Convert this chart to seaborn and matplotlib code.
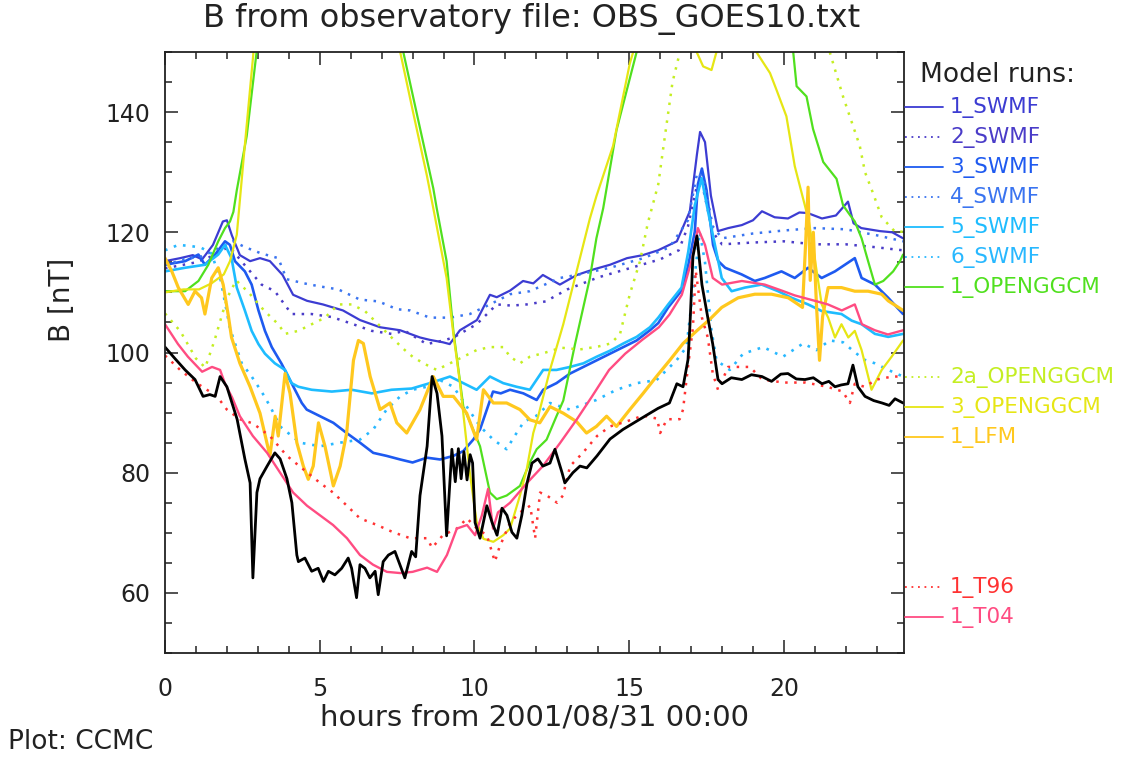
import matplotlib
matplotlib.use("Agg")
import matplotlib.pyplot as plt
from matplotlib.lines import Line2D
from matplotlib.ticker import MultipleLocator
import seaborn as sns
import pandas as pd

# ---------------- data (hours, B [nT]) ----------------
obs_hours = [0.0, 0.32, 0.65, 0.97, 1.23, 1.45, 1.62, 1.78, 2.0, 2.33,
             2.58, 2.75, 2.84, 2.97, 3.07, 3.3, 3.55, 3.72, 3.94, 4.1,
             4.26, 4.31, 4.52, 4.74, 4.95, 5.12, 5.28, 5.49, 5.71, 5.92,
             6.03, 6.19, 6.3, 6.46, 6.62, 6.79, 6.89, 7.05, 7.22, 7.43,
             7.59, 7.75, 7.97, 8.1, 8.24, 8.47, 8.63, 8.79, 8.95, 9.1,
             9.27, 9.38, 9.48, 9.57, 9.66, 9.76, 9.86, 9.94, 10.02, 10.18,
             10.4, 10.57, 10.73, 10.89, 11.05, 11.21, 11.37, 11.53, 11.7, 11.86,
             12.05, 12.21, 12.44, 12.6, 12.83, 12.92, 13.18, 13.41, 13.63, 13.96,
             14.38, 14.8, 15.25, 15.67, 15.93, 16.3, 16.54, 16.74, 16.9, 16.96,
             17.06, 17.19, 17.35, 17.54, 17.7, 17.87, 18.0, 18.3, 18.64, 18.95,
             19.29, 19.6, 19.9, 20.13, 20.4, 20.68, 20.95, 21.23, 21.45, 21.65,
             21.85, 22.07, 22.23, 22.39, 22.62, 22.9, 23.17, 23.4, 23.59, 23.85]
obs_b = [100.9, 99.0, 97.1, 95.5, 92.7, 93.0, 92.7, 96.0, 94.3, 88.9,
         82.3, 78.3, 62.5, 76.7, 79.0, 81.1, 83.3, 82.3, 79.0, 75.0,
         66.3, 65.2, 65.8, 63.6, 64.1, 61.9, 63.6, 63.0, 64.1, 65.8,
         64.1, 59.2, 64.7, 64.1, 62.5, 63.6, 59.7, 65.2, 66.3, 66.9,
         64.7, 62.5, 66.9, 66.0, 76.2, 84.4, 96.0, 93.2, 86.1, 69.5,
         83.9, 78.5, 84.0, 79.0, 83.5, 78.8, 83.0, 81.6, 71.7, 69.1,
         74.5, 71.7, 69.6, 74.1, 72.9, 70.1, 69.1, 72.9, 78.3, 81.6,
         82.3, 81.1, 81.6, 83.9, 80.0, 78.3, 80.0, 81.1, 80.8, 82.8,
         85.6, 87.2, 88.6, 89.9, 90.7, 91.6, 94.8, 94.3, 98.8, 104.2,
         116.0, 119.4, 111.3, 105.8, 101.4, 95.5, 94.8, 95.8, 95.5, 96.3,
         96.0, 95.2, 96.4, 96.5, 95.6, 95.5, 95.8, 94.8, 95.2, 94.3,
         94.6, 94.8, 97.9, 94.3, 92.7, 92.0, 91.6, 91.2, 92.3, 91.6]

swmf1_hours = [0.0, 0.49, 0.9, 1.2, 1.55, 1.87, 2.0, 2.16, 2.42, 2.75,
               3.07, 3.39, 3.8, 4.14, 4.59, 5.1, 5.75, 6.3, 6.95, 7.6,
               8.24, 8.56, 8.98, 9.2, 9.53, 10.08, 10.5, 10.72, 11.15, 11.57,
               11.9, 12.21, 12.76, 13.0, 13.31, 13.83, 14.38, 14.93, 15.44, 15.93,
               16.54, 16.96, 17.19, 17.29, 17.45, 17.64, 17.87, 18.2, 18.64, 19.0,
               19.29, 19.7, 20.13, 20.5, 20.77, 21.23, 21.68, 22.07, 22.25, 22.5,
               23.1, 23.5, 23.85]
swmf1_b = [115.2, 115.7, 116.2, 115.5, 117.9, 121.8, 122.0, 119.5, 116.2, 115.2,
           115.7, 115.2, 112.9, 109.6, 108.6, 108.0, 107.0, 105.4, 104.2, 103.7,
           102.5, 102.1, 101.7, 101.4, 103.7, 105.4, 109.6, 109.2, 110.3, 111.9,
           111.5, 112.9, 111.3, 112.0, 112.9, 113.8, 114.6, 115.7, 116.2, 117.0,
           118.5, 123.5, 133.0, 136.7, 135.0, 126.1, 120.2, 120.7, 121.2, 122.0,
           123.5, 122.5, 122.3, 123.3, 123.2, 122.3, 122.8, 125.1, 121.5, 120.7,
           120.2, 120.0, 119.0]

swmf2_hours = [0.0, 0.5, 1.0, 1.5, 1.8, 2.1, 2.5, 3.12, 3.55, 4.09,
               4.74, 5.39, 6.03, 6.68, 7.32, 7.75, 8.46, 9.0, 9.32, 10.07,
               10.72, 11.2, 11.69, 12.3, 13.0, 14.0, 15.0, 16.0, 16.6, 16.9,
               17.2, 17.4, 17.7, 18.0, 19.0, 20.0, 21.0, 22.0, 23.0, 23.85]
swmf2_b = [114.0, 114.5, 115.0, 116.0, 117.0, 117.5, 115.0, 111.3, 110.2, 106.4,
           106.4, 105.9, 104.8, 103.6, 103.1, 103.6, 101.4, 102.0, 102.5, 104.7,
           108.0, 107.8, 108.0, 108.5, 110.5, 112.5, 114.0, 115.5, 117.0, 121.0,
           128.0, 127.0, 120.0, 118.0, 118.3, 118.5, 118.0, 118.0, 117.5, 117.0]

swmf3_hours = [0.0, 0.65, 1.08, 1.29, 1.62, 1.94, 2.1, 2.26, 2.58, 2.8,
               3.02, 3.23, 3.45, 3.77, 4.09, 4.42, 4.58, 5.01, 5.44, 5.87,
               6.3, 6.73, 7.16, 7.6, 8.0, 8.46, 8.89, 9.32, 9.64, 9.96,
               10.18, 10.4, 10.6, 10.85, 11.15, 11.58, 12.01, 12.22, 12.65, 13.09,
               13.52, 13.95, 14.38, 14.81, 15.24, 15.67, 15.94, 16.26, 16.69, 16.91,
               17.12, 17.22, 17.35, 17.5, 17.71, 17.88, 18.1, 18.63, 19.06, 19.38,
               19.92, 20.35, 20.78, 21.22, 21.65, 21.97, 22.29, 22.51, 22.94, 23.37,
               23.85]
swmf3_b = [114.6, 115.2, 116.3, 114.6, 116.3, 118.5, 117.9, 115.2, 113.5, 111.3,
           107.0, 103.6, 100.9, 98.1, 94.9, 91.6, 90.5, 89.4, 88.3, 86.6,
           85.0, 83.3, 82.8, 82.2, 81.7, 82.5, 82.2, 82.8, 83.6, 85.5,
           87.2, 90.5, 93.5, 93.2, 93.8, 93.2, 92.1, 93.8, 94.9, 96.5,
           97.6, 98.7, 99.8, 100.9, 102.0, 103.7, 104.9, 107.5, 110.3, 114.6,
           120.1, 128.0, 130.6, 127.0, 117.9, 115.2, 114.1, 113.0, 111.9, 112.4,
           113.5, 112.4, 114.1, 112.4, 113.5, 114.6, 115.7, 112.4, 111.3, 109.1,
           106.4]

swmf4_hours = [0.0, 0.6, 1.2, 1.8, 2.2, 2.6, 3.1, 3.66, 3.93, 4.5,
               5.0, 5.6, 6.3, 6.9, 7.5, 7.92, 8.56, 9.21, 9.85, 10.5,
               11.15, 11.79, 12.76, 13.3, 14.38, 15.46, 16.3, 16.9, 17.2, 17.4,
               17.7, 18.0, 19.0, 20.0, 21.0, 22.0, 23.0, 23.85]
swmf4_b = [114.5, 115.5, 116.0, 117.5, 118.5, 117.5, 116.5, 115.7, 112.2, 111.5,
           111.0, 110.5, 108.8, 108.5, 107.2, 107.0, 105.8, 105.8, 106.4, 108.0,
           109.7, 110.2, 112.4, 112.9, 114.1, 115.7, 117.5, 122.0, 130.0, 129.0,
           121.0, 119.0, 119.8, 120.3, 120.7, 120.5, 119.5, 118.5]

swmf5_hours = [0.0, 0.65, 1.29, 1.72, 1.94, 2.15, 2.32, 2.58, 2.8, 3.02,
               3.23, 3.55, 3.88, 4.09, 4.31, 4.74, 5.39, 6.03, 6.68, 7.32,
               7.97, 8.56, 9.21, 9.64, 10.07, 10.5, 10.93, 11.36, 11.79, 12.22,
               12.65, 13.09, 13.52, 13.95, 14.38, 14.81, 15.24, 15.67, 15.94, 16.26,
               16.69, 16.91, 17.12, 17.34, 17.55, 17.77, 17.99, 18.31, 18.74, 19.28,
               19.81, 20.25, 20.78, 21.22, 21.86, 22.19, 22.51, 22.94, 23.37, 23.85]
swmf5_b = [113.5, 114.1, 114.6, 116.3, 117.9, 115.7, 110.8, 107.0, 103.6, 101.4,
           99.8, 98.2, 97.1, 94.9, 94.3, 93.8, 93.5, 93.8, 93.2, 93.8,
           94.0, 94.9, 96.0, 94.9, 93.8, 96.0, 94.9, 94.3, 93.8, 97.1,
           97.1, 97.6, 98.2, 99.3, 100.3, 101.5, 102.6, 104.2, 105.8, 108.0,
           110.8, 116.8, 124.5, 129.0, 123.4, 117.9, 112.4, 110.2, 110.8, 111.3,
           110.2, 109.1, 108.0, 106.9, 106.4, 105.3, 104.7, 103.1, 102.6, 103.1]

swmf6_hours = [0.0, 0.43, 0.86, 1.18, 1.5, 1.8, 2.1, 2.48, 2.8, 3.12,
               3.4, 3.72, 4.36, 5.01, 5.66, 6.3, 6.73, 7.16, 7.6, 8.0,
               8.46, 8.89, 9.32, 9.75, 10.18, 10.61, 11.04, 11.26, 11.6, 12.01,
               12.44, 13.08, 13.94, 14.59, 15.24, 15.88, 16.53, 16.85, 17.1, 17.28,
               17.45, 17.65, 17.82, 18.25, 18.68, 19.33, 19.97, 20.62, 21.05, 21.48,
               21.91, 22.3, 22.6, 22.94, 23.37, 23.85]
swmf6_b = [117.0, 117.9, 117.7, 117.4, 116.5, 112.0, 104.0, 98.2, 96.0, 93.5,
           91.0, 87.7, 85.0, 84.4, 85.0, 85.5, 87.2, 90.5, 92.7, 93.8,
           94.3, 95.4, 94.3, 91.0, 87.7, 85.5, 83.9, 85.8, 88.5, 89.5,
           91.6, 90.5, 92.1, 93.8, 94.9, 95.4, 98.7, 100.9, 112.0, 120.0,
           115.0, 104.0, 98.7, 97.1, 99.8, 100.9, 99.3, 101.5, 100.4, 102.0,
           101.7, 100.0, 98.8, 98.2, 97.1, 96.0]

ggcm1_hours = [0.0, 0.65, 1.08, 1.4, 1.72, 1.94, 2.1, 2.21, 2.32, 2.64,
               2.96, 3.3, 7.25, 7.7, 8.13, 8.67, 8.78, 9.1, 9.32, 9.64,
               9.85, 10.18, 10.5, 10.72, 11.04, 11.47, 11.79, 12.01, 12.33, 12.65,
               12.87, 13.25, 13.73, 13.94, 14.16, 14.59, 15.24, 15.6, 19.9, 20.3,
               20.41, 20.73, 20.94, 21.27, 21.7, 21.91, 22.13, 22.29, 22.51, 22.72,
               22.94, 23.21, 23.53, 23.75, 23.85]
ggcm1_b = [110.2, 110.2, 111.9, 114.6, 118.5, 120.7, 121.8, 123.4, 127.0, 136.0,
           150.0, 165.0, 165.0, 150.0, 139.9, 127.3, 124.0, 115.2, 103.5, 91.0,
           88.5, 84.4, 76.7, 75.6, 76.2, 77.8, 81.7, 83.9, 85.5, 89.4,
           92.0, 101.4, 112.4, 119.0, 124.0, 137.0, 150.0, 165.0, 165.0, 150.0,
           144.3, 142.6, 137.2, 131.7, 128.9, 124.5, 122.9, 121.8, 119.0, 115.2,
           111.3, 111.9, 113.5, 115.2, 116.3]

ggcm2a_hours = [0.0, 0.5, 1.0, 1.3, 1.6, 2.0, 2.3, 2.7, 3.2, 3.66,
                3.88, 4.31, 4.74, 5.17, 5.6, 6.03, 6.46, 6.89, 7.32, 7.75,
                8.0, 8.35, 8.78, 9.21, 9.64, 10.07, 10.5, 10.93, 11.15, 11.47,
                11.79, 12.3, 12.8, 13.4, 14.0, 14.4, 14.7, 15.02, 15.35, 15.6,
                15.94, 16.1, 16.4, 16.64, 17.0, 21.0, 21.48, 21.91, 22.45, 22.62,
                22.88, 23.16, 23.59, 23.85]
ggcm2a_b = [106.5, 103.5, 99.0, 97.5, 102.0, 109.0, 112.0, 110.0, 107.0, 104.7,
            103.1, 103.6, 104.7, 105.8, 108.0, 108.0, 106.9, 104.7, 102.5, 100.4,
            99.3, 98.2, 97.1, 98.2, 99.3, 100.4, 100.9, 100.9, 99.3, 98.2,
            99.3, 100.0, 100.8, 100.5, 101.0, 101.5, 103.0, 109.7, 115.2, 121.5,
            128.0, 134.0, 145.0, 150.0, 165.0, 165.0, 150.0, 142.6, 134.4, 130.0,
            126.5, 122.5, 120.1, 120.1]

ggcm3_hours = [0.0, 0.6, 1.1, 1.5, 1.9, 2.1, 2.32, 2.53, 2.86, 3.2,
               7.2, 7.6, 8.02, 8.46, 8.67, 9.1, 9.32, 9.53, 9.85, 10.07,
               10.29, 10.61, 10.93, 11.15, 11.47, 11.69, 11.9, 12.06, 12.44, 12.87,
               13.3, 13.73, 13.94, 14.48, 15.02, 15.13, 15.6, 16.8, 17.18, 17.39,
               17.66, 17.82, 18.3, 18.7, 19.11, 19.55, 19.76, 20.08, 20.35, 20.6,
               20.8, 21.0, 21.22, 21.43, 21.65, 21.86, 22.08, 22.29, 22.51, 22.83,
               23.16, 23.48, 23.85]
ggcm3_b = [110.0, 110.5, 110.5, 111.5, 113.0, 115.2, 119.6, 131.7, 150.0, 165.0,
           165.0, 150.0, 139.9, 129.5, 124.0, 112.4, 103.0, 95.0, 80.0, 71.8,
           69.0, 68.5, 69.6, 70.7, 76.2, 80.6, 86.6, 89.4, 97.1, 104.7,
           113.5, 122.3, 126.0, 134.4, 148.1, 150.0, 165.0, 165.0, 150.0, 147.6,
           147.0, 150.0, 165.0, 165.0, 150.0, 146.5, 143.7, 139.3, 131.0, 126.0,
           122.0, 115.5, 108.0, 105.8, 102.5, 104.7, 102.5, 103.6, 100.4, 93.8,
           97.1, 99.3, 102.0]

lfm_hours = [0.0, 0.22, 0.43, 0.75, 0.97, 1.18, 1.29, 1.51, 1.72, 1.88,
             2.05, 2.15, 2.42, 2.75, 3.07, 3.39, 3.56, 3.66, 3.88, 4.04,
             4.26, 4.47, 4.63, 4.79, 4.96, 5.17, 5.44, 5.66, 5.87, 6.09,
             6.25, 6.41, 6.63, 6.95, 7.27, 7.49, 7.81, 8.24, 8.67, 8.99,
             9.32, 9.75, 10.07, 10.29, 10.61, 11.04, 11.47, 11.79, 12.11, 12.44,
             12.87, 13.3, 13.62, 13.94, 14.27, 14.59, 15.02, 15.45, 15.88, 16.31,
             16.74, 17.18, 17.6, 17.99, 18.52, 19.06, 19.6, 20.14, 20.46, 20.6,
             20.7, 20.78, 20.85, 20.95, 21.05, 21.15, 21.25, 21.43, 21.86, 22.29,
             22.72, 23.16, 23.37, 23.85]
lfm_b = [115.7, 113.5, 110.8, 108.0, 110.2, 109.1, 106.4, 112.4, 114.1, 111.3,
         106.0, 102.5, 98.2, 94.3, 89.9, 82.8, 89.4, 86.1, 96.5, 93.2,
         85.0, 81.1, 78.9, 81.1, 88.3, 84.4, 77.8, 81.1, 86.6, 98.7,
         102.0, 101.5, 96.0, 90.5, 91.6, 88.3, 86.6, 90.5, 96.0, 92.7,
         92.7, 89.9, 85.5, 93.8, 91.6, 91.6, 90.5, 88.8, 88.3, 91.0,
         89.9, 88.5, 86.6, 87.7, 89.4, 87.7, 90.5, 93.2, 96.0, 98.7,
         101.5, 103.6, 105.5, 107.5, 109.1, 109.7, 109.7, 109.1, 108.0, 107.5,
         118.0, 127.5, 112.0, 120.0, 108.0, 98.7, 106.0, 110.8, 110.8, 110.2,
         110.2, 109.7, 108.6, 107.0]

t96_hours = [0.0, 0.49, 1.0, 1.68, 2.0, 2.42, 2.84, 3.39, 3.94, 4.46,
             5.01, 5.43, 5.88, 6.3, 6.85, 7.37, 7.92, 8.47, 8.63, 8.98,
             9.43, 9.76, 10.08, 10.4, 10.66, 10.8, 11.15, 11.47, 11.8, 11.96,
             12.12, 12.34, 12.67, 12.86, 13.09, 13.5, 13.96, 14.38, 14.9, 15.45,
             15.9, 16.0, 16.22, 16.63, 16.74, 16.9, 17.06, 17.15, 17.35, 17.54,
             17.7, 17.87, 18.2, 18.9, 19.3, 20.0, 20.7, 21.4, 21.9, 22.13,
             22.29, 22.6, 23.0, 23.5, 23.85]
t96_b = [99.5, 97.1, 95.0, 92.7, 90.5, 88.9, 88.2, 86.1, 82.8, 80.6,
         78.3, 76.7, 74.5, 72.4, 71.3, 70.1, 69.1, 69.1, 67.5, 69.6,
         70.7, 72.4, 70.7, 69.6, 65.2, 67.5, 71.7, 73.4, 74.5, 69.1,
         76.7, 76.2, 75.0, 76.2, 81.1, 83.3, 86.1, 87.7, 88.5, 89.5,
         89.0, 86.6, 88.9, 88.9, 90.5, 97.6, 104.2, 113.6, 105.8, 102.5,
         96.5, 93.8, 97.6, 97.6, 95.5, 95.0, 95.0, 94.3, 93.5, 91.6,
         94.8, 94.3, 95.5, 96.0, 96.0]

t04_hours = [0.0, 0.42, 0.74, 1.2, 1.52, 1.78, 1.94, 2.17, 2.42, 2.84,
             3.3, 3.72, 4.14, 4.59, 5.01, 5.43, 5.88, 6.3, 6.72, 7.17,
             7.6, 8.0, 8.47, 8.79, 9.11, 9.43, 9.76, 10.02, 10.24, 10.44,
             10.6, 10.76, 11.15, 11.7, 12.21, 12.76, 13.31, 13.8, 14.35, 14.87,
             15.42, 15.96, 16.3, 16.7, 17.03, 17.22, 17.45, 17.7, 18.0, 18.64,
             19.38, 19.93, 20.35, 21.0, 21.42, 21.87, 22.29, 22.52, 22.94, 23.36,
             23.85]
t04_b = [104.7, 101.4, 99.3, 96.8, 97.6, 97.1, 94.8, 92.5, 89.4, 86.1,
         83.3, 80.0, 76.7, 74.5, 72.9, 71.3, 69.1, 66.3, 64.7, 63.5,
         63.3, 63.5, 64.2, 63.5, 66.3, 70.7, 71.3, 69.6, 72.9, 77.3,
         70.7, 73.4, 75.0, 78.3, 81.1, 84.9, 88.9, 92.7, 97.1, 99.8,
         102.1, 104.2, 106.3, 109.6, 115.5, 120.7, 117.9, 112.4, 111.3, 111.9,
         111.3, 110.3, 109.5, 108.6, 108.0, 107.0, 108.0, 104.7, 103.7, 103.0,
         103.7]

run_names = ["1_SWMF", "2_SWMF", "3_SWMF", "4_SWMF", "5_SWMF", "6_SWMF",
             "1_OPENGGCM", "2a_OPENGGCM", "3_OPENGGCM", "1_LFM", "1_T96", "1_T04"]
x_ticks = [0, 5, 10, 15, 20]
y_ticks = [60, 80, 100, 120, 140]

# ---------------- styling ----------------
DOT = (0, (1, 2.6))
runs = [
    ("1_SWMF", swmf1_hours, swmf1_b, "#3c3cd2", "-", 1.6),
    ("2_SWMF", swmf2_hours, swmf2_b, "#4a3cc8", DOT, 1.8),
    ("3_SWMF", swmf3_hours, swmf3_b, "#1e5af0", "-", 1.9),
    ("4_SWMF", swmf4_hours, swmf4_b, "#3a74f0", DOT, 1.8),
    ("5_SWMF", swmf5_hours, swmf5_b, "#1ebcff", "-", 1.9),
    ("6_SWMF", swmf6_hours, swmf6_b, "#28b8ff", DOT, 1.9),
    ("1_OPENGGCM", ggcm1_hours, ggcm1_b, "#50e01e", "-", 1.6),
    ("2a_OPENGGCM", ggcm2a_hours, ggcm2a_b, "#c4ee22", DOT, 1.8),
    ("3_OPENGGCM", ggcm3_hours, ggcm3_b, "#e6e614", "-", 1.6),
    ("1_LFM", lfm_hours, lfm_b, "#ffc81e", "-", 2.3),
    ("1_T96", t96_hours, t96_b, "#ff3232", DOT, 1.8),
    ("1_T04", t04_hours, t04_b, "#ff4c82", "-", 1.7),
]

sns.set_theme(style="ticks")
plt.rcParams['font.family'] = ['DejaVu Sans']

W, H = 1135, 758
fig = plt.figure(figsize=(W / 100, H / 100), dpi=100, facecolor="white")
ax = fig.add_axes([165 / W, 105 / H, 739 / W, 601 / H])
ax.set_facecolor("white")

for name, hrs, bv, col, ls, lw in runs:
    df = pd.DataFrame({"hours": hrs, "B": bv})
    sns.lineplot(data=df, x="hours", y="B", ax=ax, color=col, linewidth=lw,
                 linestyle=ls, estimator=None, sort=False, legend=False)

df_obs = pd.DataFrame({"hours": obs_hours, "B": obs_b})
sns.lineplot(data=df_obs, x="hours", y="B", ax=ax, color="black", linewidth=2.0,
             estimator=None, sort=False, legend=False)

ax.set_xlim(0, 23.88)
ax.set_ylim(50, 150)
ax.set_xticks(x_ticks)
ax.set_yticks(y_ticks)
ax.xaxis.set_minor_locator(MultipleLocator(1))
ax.yaxis.set_minor_locator(MultipleLocator(5))
ax.tick_params(which="both", direction="in", top=True, right=True,
               color="#222222", width=1.1)
ax.tick_params(which="major", length=9.5, labelsize=17, colors="#222222")
ax.tick_params(which="minor", length=5)
ax.tick_params(axis="x", which="major", pad=17)
ax.tick_params(axis="y", which="major", pad=10.5)
for sp in ax.spines.values():
    sp.set_linewidth(1.3)
    sp.set_color("#222222")

ax.set_xlabel("hours from 2001/08/31 00:00", fontsize=21, color="#222222")
ax.xaxis.label.set_va("center")
ax.xaxis.set_label_coords(0.5, (653 - 718) / 601)
ax.set_ylabel("B [nT]", fontsize=20, color="#222222")
ax.yaxis.label.set_va("center")
ax.yaxis.set_label_coords((62 - 165) / 739, (653 - 300) / 601)

fig.text(532 / W, 1 - 19 / H, "B from observatory file: OBS_GOES10.txt",
         ha="center", va="center", fontsize=23, color="#222222")
fig.text(8 / W, 1 - 742 / H, "Plot: CCMC", ha="left", va="center",
         fontsize=19, color="#222222")

# ---------------- legend (model runs) ----------------
fig.text(920 / W, 1 - 75 / H, "Model runs:", ha="left", va="center",
         fontsize=19, color="#222222")
legend_y = [107, 137, 167, 197, 227, 257, 287, 377, 407, 437, 587, 617]
for (name, hrs, bv, col, ls, lw), yp in zip(runs, legend_y):
    yf = 1 - yp / H
    fig.add_artist(Line2D([905 / W, 943 / W], [yf, yf], color=col,
                          linewidth=1.3, linestyle=ls, transform=fig.transFigure))
    fig.text(950 / W, yf, name, ha="left", va="center", fontsize=15.5, color=col)

fig.savefig("out.png", dpi=100, facecolor="white")
